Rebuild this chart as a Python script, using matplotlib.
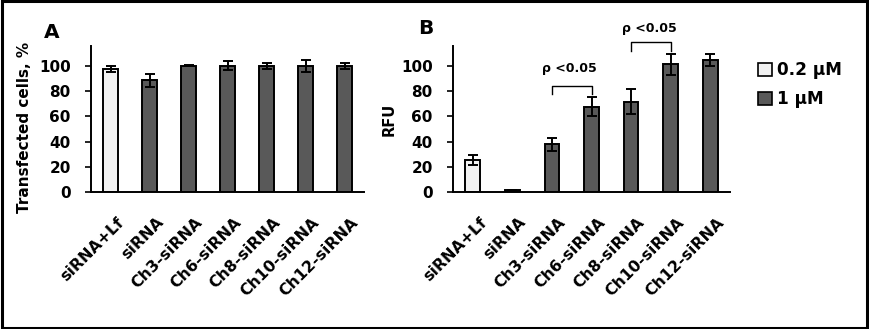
import matplotlib
matplotlib.use("Agg")
import matplotlib.pyplot as plt
from matplotlib.patches import Patch, Rectangle
from matplotlib.transforms import ScaledTranslation
import numpy as np

plt.rcParams['font.family'] = ['DejaVu Sans']
plt.rcParams['font.weight'] = 'bold'

categories = ["siRNA+Lf", "siRNA", "Ch3-siRNA", "Ch6-siRNA", "Ch8-siRNA", "Ch10-siRNA", "Ch12-siRNA"]
conc = ["0.2 μM", "1 μM", "1 μM", "1 μM", "1 μM", "1 μM", "1 μM"]
values_A = [97.5, 88.5, 100, 100, 100, 100, 100]
err_A = [2.6, 5.0, 0.5, 3.6, 2.3, 4.6, 2.3]
values_B = [25.5, 2.0, 38, 67.5, 71.5, 101, 104.5]
err_B = [4.0, 0.0, 5.0, 7.5, 10.0, 8.0, 4.5]
sig_pairs = [(2, 3, 84, 97.8, "ρ <0.05"), (4, 5, 118.5, 129.5, "ρ <0.05")]

colors = {"0.2 μM": "#f2f2f2", "1 μM": "#595959"}

W, H = 869, 329
fig = plt.figure(figsize=(W / 100, H / 100), dpi=100)
fig.patches.append(Rectangle((0.002, 0.003), 0.996, 0.994, transform=fig.transFigure,
                             fill=False, edgecolor='black', linewidth=2.2))

ax_pos = [(91, 364), (453, 730)]
bottom_px, top_px = 192.3, 46
ymax = (bottom_px - top_px) / 1.266

def make_ax(x0, x1):
    return fig.add_axes([x0 / W, (H - bottom_px) / H, (x1 - x0) / W, (bottom_px - top_px) / H])

axA = make_ax(*ax_pos[0])
axB = make_ax(*ax_pos[1])

x = np.arange(len(categories))
for ax, vals, errs in [(axA, values_A, err_A), (axB, values_B, err_B)]:
    ax.bar(x, vals, width=0.37, color=[colors[c] for c in conc], edgecolor='black',
           linewidth=1.4, zorder=2)
    ax.errorbar(x, vals, yerr=errs, fmt='none', ecolor='black', elinewidth=1.4,
                capsize=3.5, capthick=1.4, zorder=3)
    ax.set_xlim(-0.5, len(categories) - 0.5)
    ax.set_ylim(0, ymax)
    ax.set_yticks([0, 20, 40, 60, 80, 100])
    ax.tick_params(axis='y', labelsize=11, length=4.5, width=1.2, pad=10)
    ax.tick_params(axis='x', length=0, pad=16)
    ax.set_xticks(x)
    ax.set_xticklabels(categories, rotation=45, ha='right', va='top', rotation_mode='anchor',
                       fontsize=11.3, fontweight='bold')
    off = ScaledTranslation(6 / 100, 0, fig.dpi_scale_trans)
    for lab in ax.get_xticklabels():
        lab.set_transform(lab.get_transform() + off)
    for lab in ax.get_yticklabels():
        lab.set_fontweight('bold')
    for s in ['top', 'right']:
        ax.spines[s].set_visible(False)
    for s in ['left', 'bottom']:
        ax.spines[s].set_linewidth(1.4)

axA.set_ylabel("Transfected cells, %", fontsize=11, fontweight='bold')
axA.yaxis.set_label_coords(-0.216, 0.443)
axB.set_ylabel("RFU", fontsize=10.5, fontweight='bold')
axB.yaxis.set_label_coords(-0.202, 0.50)

fig.text(52 / W, 1 - 32 / H, "A", fontsize=14.5, fontweight='bold', va='center', ha='center')
fig.text(425.5 / W, 1 - 29 / H, "B", fontsize=14.5, fontweight='bold', va='center', ha='center')

for i, j, yb, yt, txt in sig_pairs:
    drop = 6.5
    axB.plot([i, i, j, j], [yb - drop, yb, yb, yb - drop], color='black', lw=1.0,
             clip_on=False)
    axB.text((i + j) / 2 - 0.05, yt, txt, ha='center', va='center', fontsize=9,
             fontweight='bold', clip_on=False)

handles = [Patch(facecolor=colors[c], edgecolor='black', linewidth=1.2, label=c)
           for c in ["0.2 μM", "1 μM"]]
fig.legend(handles=handles, loc='upper left', bbox_to_anchor=(743 / W, 1 - 46 / H),
           frameon=False, handlelength=0.8, handleheight=0.8,
           handletextpad=0.3, labelspacing=0.65, prop={'weight': 'bold', 'size': 12.2})

fig.savefig("out.png", dpi=100)
